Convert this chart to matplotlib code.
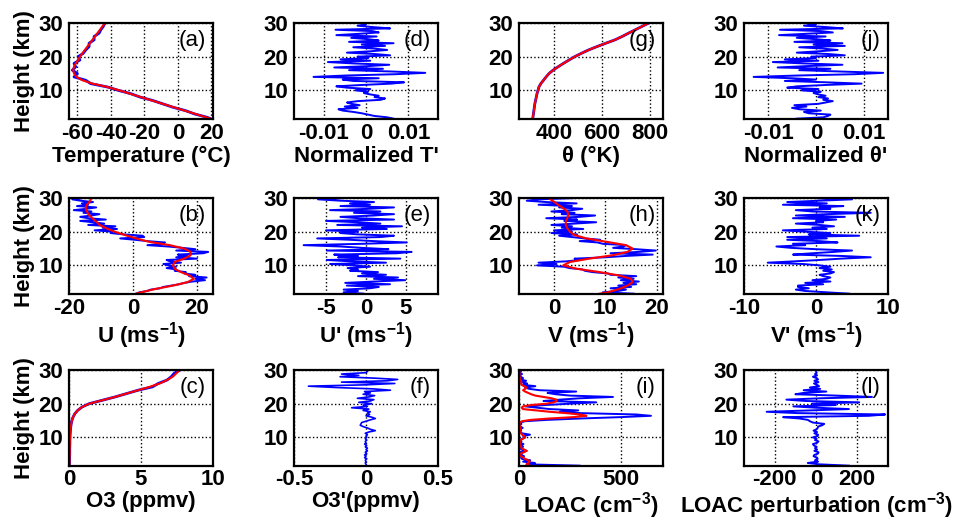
import numpy as np
import matplotlib
matplotlib.use('Agg')
import matplotlib.pyplot as plt
from matplotlib.ticker import FuncFormatter

# heights (km): fine sounding levels and coarse (smoothed) levels
z = np.arange(1.6, 30.01, 0.4)
zc = np.array([1.6] + list(range(2, 31)))

# (a) temperature (degC), coarse levels
temp_raw = [19.5, 17.5, 10, 4.5, -3, -9, -15, -22.5, -28, -35.5,
            -42, -52, -55, -62, -60, -63, -61, -62, -58.5, -59.5,
            -56.5, -55, -53, -53, -50, -50, -47, -46, -44.5, -43.5]
temp_smooth = [19.5, 17, 10.5, 4, -2.5, -9, -15.5, -22, -28.5, -35,
               -42, -51, -57, -60.5, -62, -62.5, -62, -61, -59.5, -58.5,
               -57, -55.5, -54, -52.5, -51, -49.5, -48, -46.5, -45, -43.5]

# (d) normalized T' (x 1e-3), fine levels
t_norm = np.array([6.5, 5.0, 2.0, 0.5, -1.0, -3.0, -5.5, -6.5, -2.0, -5.0,
                   -1.5, -3.5, -4.5, -2.0, 3.5, 4.5, 2.0, 3.0, 1.0, -0.5,
                   0.5, -2.5, 1.0, -4.5, -7.0, -1.0, 6.0, 9.0, -3.0, -5.5,
                   3.0, -12.4, -5.0, 7.0, 14.0, 6.0, -4.0, 4.0, -7.5, 0.5,
                   5.5, -3.0, -9.0, 1.0, -6.0, 0.5, -2.0, 5.7, 2.0, -4.5,
                   1.0, 5.0, 2.0, -3.0, 4.5, -1.0, 6.5, -4.0, 3.0, 0.5,
                   -3.5, 2.5, -7.0, -1.5, 3.0, 1.5, -7.2, 5.7, 1.5, -2.0,
                   0.0, -1.0]) * 1e-3

# (g) potential temperature (K), coarse levels
theta = [312, 313, 315, 317, 319, 321, 324, 327, 330, 334,
         338, 346, 357, 368, 380, 397, 418, 440, 463, 487,
         515, 545, 580, 617, 655, 685, 712, 740, 768, 796]

# (j) normalized theta' (x 1e-3), fine levels
theta_norm = np.array([-4.0, 1.5, 2.5, 3.0, -1.5, -2.5, 1.0, -3.5, -5.0, -2.0,
                       -4.5, 0.5, 2.0, 3.5, 1.5, 2.5, 0.5, 2.0, 0.5, -0.5,
                       1.0, -3.0, 0.5, -6.0, -4.0, 2.0, 9.5, 2.0, -6.5, 0.0,
                       -5.0, -13.0, -4.0, 8.0, 14.0, 5.0, -3.5, 3.0, -8.0, -2.0,
                       5.5, -2.5, -9.0, 0.5, -6.5, 0.0, -1.0, 6.0, 2.5, -4.0,
                       0.5, 4.5, 1.5, -3.5, 6.0, -0.5, 5.5, -4.5, 3.0, 0.0,
                       -4.0, 2.0, -7.7, -2.0, 3.5, 1.0, -7.5, 5.6, 2.0, -2.5,
                       0.0, -2.0]) * 1e-3

# (b) zonal wind U (m/s)
u_raw = [1.0, 2.0, 4.5, 5.5, 8.5, 9.5, 12.0, 14.5, 16.0, 18.5,
         22.5, 19.5, 23.0, 17.5, 19.5, 16.0, 16.5, 13.0, 13.5, 10.5,
         13.5, 11.0, 9.5, 15.0, 11.5, 10.5, 20.0, 13.5, 17.0, 14.0,
         22.0, 23.5, 13.5, 19.5, 15.5, 11.0, 4.5, 9.5, 10.0, 4.5,
         0.5, -4.0, 3.5, 3.0, -3.0, -7.0, -6.5, -12.0, -5.0, -9.5,
         -5.5, -14.0, -9.0, -12.5, -16.5, -8.5, -14.0, -16.5, -13.0, -10.5,
         -15.5, -13.0, -18.5, -14.5, -11.5, -17.5, -14.0, -16.0, -12.5, -16.5,
         -19.0, -15.5]
u_smooth = [1, 2.5, 7, 12.5, 17, 19, 17.7, 15, 13, 12.5,
            13, 16, 18, 18, 16, 11.5, 5, 1, -2.5, -5.7,
            -8.3, -10.4, -11.5, -12.7, -13.8, -14.4, -14.8, -14.4, -13.5, -13]

# (e) U' (m/s)
u_pert = [-0.3, -2.8, -1.0, -2.8, 0.5, 1.6, -2.4, 3.0, -2.6, 1.0,
          4.9, 1.0, 4.0, -1.0, 2.5, -0.5, 1.5, -2.0, -1.0, -2.3,
          0.5, -1.5, -4.5, 2.5, -2.0, -4.9, 4.3, -3.5, -1.0, -4.0,
          3.9, 5.7, -4.9, 2.8, -0.5, -3.2, -7.8, -0.5, 5.1, 1.0,
          -2.0, -6.1, 1.8, 3.5, -1.0, -3.2, -1.0, -5.0, 2.6, -0.5,
          4.5, -3.6, 1.8, -1.0, -5.0, 3.5, -1.0, -3.2, 1.0, 3.5,
          -1.5, 1.8, -4.5, 0.5, 3.5, -3.2, 0.5, -2.0, 1.0, -3.2,
          -6.0, -2.8]

# (h) meridional wind V (m/s)
v_raw = [15.5, 9.5, 12.5, 14.0, 11.0, 15.0, 12.5, 16.0, 13.5, 16.5,
         13.0, 15.5, 12.5, 16.0, 11.0, 10.5, 7.5, 6.0, 5.5, 3.0,
         2.0, -3.3, 0.5, -3.0, 2.5, 5.0, 4.0, 10.0, 14.0, 19.2,
         11.0, 16.6, 19.8, 16.0, 11.5, 13.5, 14.0, 9.5, 8.5, 5.0,
         9.0, 6.0, 3.5, 1.0, 4.5, -0.5, 3.5, 0.0, 5.7, 1.5,
         3.5, -0.5, 4.0, 8.2, 2.0, 4.5, -1.5, 5.0, 8.0, 1.5,
         4.0, -0.5, 3.5, 5.5, 1.0, 3.5, -3.0, 4.4, -1.5, -5.3,
         -3.0, 4.5]
v_smooth = [8.9, 10.5, 12.7, 14.3, 15.3, 15, 12.7, 8.9, 4.4, 1.8,
            3.1, 6.9, 11.4, 14.3, 15.3, 14, 10.2, 6.3, 4, 3.1,
            2.6, 2.3, 2.3, 2.6, 2.8, 2.6, 1.8, 0.8, -0.1, -1.1]

# (k) V' (m/s)
v_pert = [4.6, 1.5, -1.5, -2.8, -1.0, -2.5, -2.5, 1.0, -1.5, 2.0,
          -0.5, 1.5, 2.0, 1.0, 0.5, 2.0, 2.5, 1.0, 2.2, 0.5,
          2.0, 0.5, -1.8, -6.7, -3.0, 0.5, 3.5, 7.6, 3.5, -3.2,
          -0.5, 2.5, 5.0, 0.0, -3.5, -5.5, -1.5, -3.2, 3.0, 0.5,
          -4.0, 1.5, -4.0, 6.0, -1.0, 2.0, -1.5, -4.6, 1.5, -0.5,
          2.5, 0.5, -2.8, 1.0, 0.0, 2.8, -3.2, 4.0, -2.8, 1.5,
          7.6, -0.5, -2.8, 2.0, 0.5, 3.8, -4.6, 1.5, -4.0, 0.5,
          5.0, -0.5]

# (c) ozone (ppmv), coarse levels
o3_raw = [0.03, 0.03, 0.04, 0.04, 0.05, 0.05, 0.05, 0.06, 0.06, 0.07,
          0.08, 0.1, 0.12, 0.15, 0.2, 0.28, 0.4, 0.6, 0.9, 1.4,
          2.3, 3.2, 4.0, 4.8, 5.8, 6.2, 6.8, 7.1, 7.3, 7.7]
o3_smooth = [0.03, 0.03, 0.04, 0.04, 0.05, 0.05, 0.05, 0.06, 0.06, 0.07,
             0.08, 0.1, 0.12, 0.15, 0.2, 0.28, 0.4, 0.6, 0.9, 1.4,
             2.3, 3.2, 4.0, 4.8, 5.6, 6.3, 6.8, 7.2, 7.45, 7.7]

# (f) O3' (ppmv)
o3_pert = [0.005, 0.0, -0.005, 0.0, -0.005, 0.005, -0.01, 0.0, -0.01, 0.005,
           -0.005, 0.01, 0.0, 0.01, -0.005, 0.005, -0.01, 0.0, -0.005, 0.005,
           -0.005, 0.005, 0.0, 0.01, -0.005, 0.02, 0.065, 0.03, 0.01, -0.02,
           -0.04, -0.035, -0.03, 0.0, 0.03, 0.065, 0.04, 0.0, 0.025, 0.01,
           0.03, -0.02, 0.02, -0.1, 0.01, -0.02, 0.04, -0.05, 0.03, 0.055,
           -0.06, 0.02, 0.06, -0.02, 0.03, -0.01, 0.17, 0.05, -0.21, -0.4,
           0.0, 0.2, -0.17, 0.15, 0.22, 0.05, -0.18, -0.05, -0.17, 0.0,
           0.01, 0.0]

# (i) LOAC concentration (cm-3)
loac_raw = [297, 37, 78, 20, 55, 15, 10, 25, 8, 15,
            5, 38, 12, 5, 20, 8, 22, 6, 12, 4,
            15, 30, 20, 54, 15, 6, 10, 5, 18, 8,
            4, 12, 5, 30, 140, 300, 492, 646, 573, 300,
            200, 290, 150, 90, 30, 130, 250, 378, 120, 200,
            297, 460, 250, 180, 140, 280, 100, 50, 30, 80,
            20, 40, 10, 35, 5, 20, 8, 4, 15, 3,
            10, 2]
loac_smooth = [54, 37, 45, 52, 45, 30, 21, 10, 5, 8,
               25, 37, 25, 12, 10, 6, 5, 5, 5, 8,
               20, 30, 25, 15, 10, 5, 5, 6, 8, 6,
               3, 2, 5, 15, 60, 150, 265, 330, 300, 230,
               150, 85, 20, 13, 20, 60, 135, 170, 185, 183,
               160, 120, 80, 60, 45, 30, 20, 30, 37, 25,
               12, 10, 12, 8, 5, 4, 3, 2, 2, 2,
               2, 2]

# (l) LOAC perturbation (cm-3)
loac_pert = [160, 15, -40, 10, -5, 8, 5, -12, -8, 10,
             12, -8, 5, -5, 3, -10, -15, 5, 12, -5,
             3, -15, 8, 10, -8, 5, -12, 3, 8, 10,
             30, 40, -15, -30, -40, -80, -160, 256, 336, -90,
             -240, -30, 160, 0, -110, 96, -20, 210, -50, -144,
             20, 272, 100, -100, -60, 50, -60, 20, -30, 15,
             5, -10, 12, -8, 10, 2, -15, 5, -5, 3,
             0, 2]

plt.rcParams['font.family'] = ['Liberation Sans', 'DejaVu Sans']
plt.rcParams['font.weight'] = 'bold'
plt.rcParams['font.size'] = 16
plt.rcParams['axes.unicode_minus'] = False
plt.rcParams['mathtext.fontset'] = 'custom'
plt.rcParams['mathtext.bf'] = 'Liberation Sans:bold'
plt.rcParams['mathtext.rm'] = 'Liberation Sans:bold'
plt.rcParams['mathtext.default'] = 'bf'

W, H = 956, 521
fig = plt.figure(figsize=(W / 100, H / 100), dpi=100)

lefts = [69, 294, 519, 744]
bottoms = [119, 294, 466]
aw, ah = 144, 96


def panel(col, row, xlim, xticks, xlabel, tag, lpad=1):
    ax = fig.add_axes([lefts[col] / W, 1 - bottoms[row] / H, aw / W, ah / H])
    ax.set_xlim(xlim)
    ax.set_ylim(1.5, 30)
    ax.set_xticks(xticks)
    ax.set_yticks([10, 20, 30])
    ax.xaxis.set_major_formatter(FuncFormatter(lambda v, p: '%g' % v))
    ax.grid(True, linestyle=':', color='black', linewidth=1.0)
    ax.tick_params(length=0, labelsize=16)
    ax.tick_params(axis='x', pad=3 if row < 2 else 2)
    ax.tick_params(axis='y', pad=4)
    for s in ax.spines.values():
        s.set_linewidth(1.6)
    ax.set_xlabel(xlabel, fontsize=16, fontweight='bold', labelpad=lpad)
    if col == 0:
        ax.set_ylabel('Height (km)', fontsize=16, fontweight='bold', labelpad=3)
    ax.text(0.95, 0.93, tag, transform=ax.transAxes, ha='right', va='top',
            fontsize=16, fontweight='normal')
    return ax


blue = '#0000ff'
red = '#ff0000'

# column 1
ax = panel(0, 0, (-65, 21), [-60, -40, -20, 0, 20], 'Temperature (°C)', '(a)')
ax.plot(temp_raw, zc, color=blue, lw=2.0)
ax.plot(temp_smooth, zc, color=red, lw=1.5)

ax = panel(0, 1, (-20, 25), [-20, 0, 20], r'U (ms$^{-1}$)', '(b)')
ax.plot(u_raw, z, color=blue, lw=1.4)
ax.plot(u_smooth, zc, color=red, lw=1.5)

ax = panel(0, 2, (0, 10), [0, 5, 10], 'O3 (ppmv)', '(c)', lpad=1)
ax.plot(o3_raw, zc, color=blue, lw=2.0)
ax.plot(o3_smooth, zc, color=red, lw=1.5)

# column 2
ax = panel(1, 0, (-0.017, 0.017), [-0.01, 0, 0.01], "Normalized T'", '(d)')
ax.plot(t_norm, z, color=blue, lw=1.4)

ax = panel(1, 1, (-9, 9), [-5, 0, 5], r"U' (ms$^{-1}$)", '(e)')
ax.plot(u_pert, z, color=blue, lw=1.4)

ax = panel(1, 2, (-0.5, 0.5), [-0.5, 0, 0.5], "O3'(ppmv)", '(f)', lpad=1)
ax.plot(o3_pert, z, color=blue, lw=1.2)

# column 3
ax = panel(2, 0, (255, 855), [400, 600, 800], 'θ (°K)', '(g)')
ax.plot(theta, zc, color=blue, lw=2.0)
ax.plot(theta, zc, color=red, lw=1.5)

ax = panel(2, 1, (-6.8, 21.2), [0, 10, 20], r'V (ms$^{-1}$)', '(h)')
ax.plot(v_raw, z, color=blue, lw=1.4)
ax.plot(v_smooth, zc, color=red, lw=1.5)

ax = panel(2, 2, (0, 705), [0, 500], r'LOAC (cm$^{-3}$)', '(i)', lpad=0)
ax.plot(loac_raw, z, color=blue, lw=1.4)
ax.plot(loac_smooth, z, color=red, lw=1.5)

# column 4
ax = panel(3, 0, (-0.015, 0.015), [-0.01, 0, 0.01], "Normalized θ'", '(j)')
ax.plot(theta_norm, z, color=blue, lw=1.4)

ax = panel(3, 1, (-10, 10), [-10, 0, 10], r"V' (ms$^{-1}$)", '(k)')
ax.plot(v_pert, z, color=blue, lw=1.4)

ax = panel(3, 2, (-350, 350), [-200, 0, 200], r'LOAC perturbation (cm$^{-3}$)', '(l)', lpad=0)
ax.plot(loac_pert, z, color=blue, lw=1.4)

fig.savefig('out.png', dpi=100)
